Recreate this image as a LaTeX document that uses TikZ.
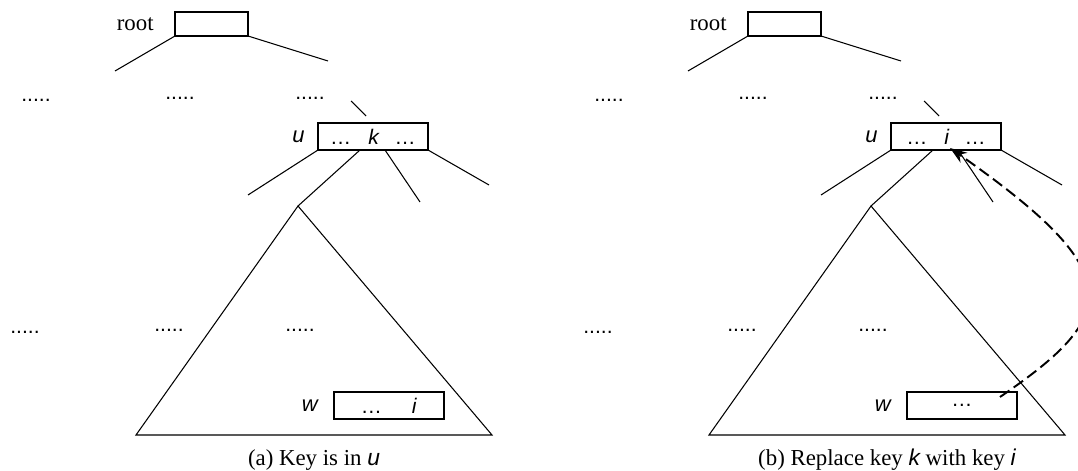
\documentclass[tikz,border=0pt]{standalone}
\usepackage{fontspec}
\setmainfont{Liberation Serif}
\setsansfont{Liberation Sans}
\usetikzlibrary{positioning,arrows.meta}
\tikzset{
  edge/.style={line width=0.6pt},
  rootbox/.style={draw,line width=0.6pt,minimum width=1.46cm,minimum height=0.48cm,inner sep=0pt,outer sep=0pt},
  keybox/.style={draw,line width=0.6pt,minimum width=2.2cm,minimum height=0.54cm,inner sep=0pt,outer sep=0pt,font=\fontsize{12}{14}\sffamily},
  varlbl/.style={inner sep=0pt,font=\fontsize{12.5}{14}\sffamily\itshape},
  dots/.style={inner sep=0pt,font=\fontsize{12}{14}\sffamily},
  serif/.style={inner sep=0pt,font=\fontsize{13}{15}\selectfont},
  caption/.style={serif,anchor=base},
}
\newcommand{\var}[1]{{\sffamily\itshape #1}}
\begin{document}
\begin{tikzpicture}
\useasboundingbox (0,0) rectangle (21.56,-9.42);
% (a) key is in u
\begin{scope}[name prefix=a-]
\node[rootbox] (root) at (4.23,-0.48) {};
\node[serif,left=0.42cm of root] (rootlbl) {root};
\coordinate (rl) at (2.3,-1.42); \coordinate (rr) at (6.56,-1.22);
\draw[edge] (root.south west) -- (rl); \draw[edge] (root.south east) -- (rr);
\node[dots] (d1) at (0.72,-2.0) {.....};
\node[dots] (d2) at (3.6,-1.96) {.....};
\node[dots] (d3) at (6.2,-1.96) {.....};
\coordinate (p1) at (7.02,-2.02); \coordinate (p2) at (7.32,-2.32);
\draw[edge] (p1) -- (p2);
\node[keybox] (u) at (7.46,-2.73) {…\hspace{0.34cm}\textit{k}\hspace{0.3cm}…};
\node[varlbl,left=0.26cm of u] (ulbl) {u};
\coordinate (top) at (5.96,-4.12);
\coordinate (c1) at (4.96,-3.9); \coordinate (c3) at (8.4,-4.04); \coordinate (c4) at (9.78,-3.7);
\draw[edge] (u.south west) -- (c1);
\draw[edge] ([xshift=0.84cm]u.south west) -- (top);
\draw[edge] ([xshift=1.34cm]u.south west) -- (c3);
\draw[edge] (u.south east) -- (c4);
\coordinate (bl) at (2.72,-8.7); \coordinate (br) at (9.84,-8.7);
\draw[edge] (top) -- (bl) -- (br) -- cycle;
\node[dots] (d4) at (0.5,-6.64) {.....};
\node[dots] (d5) at (3.38,-6.6) {.....};
\node[dots] (d6) at (6.0,-6.6) {.....};
\node[keybox] (w) at (7.78,-8.11) {…\hspace{0.6cm}\textit{i}};
\node[varlbl,left=0.32cm of w] (wlbl) {w};
\node[caption] (cap) at (6.28,-9.32) {(a) Key is in \var{u}};
\end{scope}
% (b) replace key k with key i
\begin{scope}[xshift=11.46cm,name prefix=b-]
\node[rootbox] (root) at (4.23,-0.48) {};
\node[serif,left=0.42cm of root] (rootlbl) {root};
\coordinate (rl) at (2.3,-1.42); \coordinate (rr) at (6.56,-1.22);
\draw[edge] (root.south west) -- (rl); \draw[edge] (root.south east) -- (rr);
\node[dots] (d1) at (0.72,-2.0) {.....};
\node[dots] (d2) at (3.6,-1.96) {.....};
\node[dots] (d3) at (6.2,-1.96) {.....};
\coordinate (p1) at (7.02,-2.02); \coordinate (p2) at (7.32,-2.32);
\draw[edge] (p1) -- (p2);
\node[keybox] (u) at (7.46,-2.73) {…\hspace{0.34cm}\textit{i}\hspace{0.3cm}…};
\node[varlbl,left=0.26cm of u] (ulbl) {u};
\coordinate (top) at (5.96,-4.12);
\coordinate (c1) at (4.96,-3.9); \coordinate (c3) at (8.4,-4.04); \coordinate (c4) at (9.78,-3.7);
\draw[edge] (u.south west) -- (c1);
\draw[edge] ([xshift=0.84cm]u.south west) -- (top);
\draw[edge] ([xshift=1.34cm]u.south west) -- (c3);
\draw[edge] (u.south east) -- (c4);
\coordinate (bl) at (2.72,-8.7); \coordinate (br) at (9.84,-8.7);
\draw[edge] (top) -- (bl) -- (br) -- cycle;
\node[dots] (d4) at (0.5,-6.64) {.....};
\node[dots] (d5) at (3.38,-6.6) {.....};
\node[dots] (d6) at (6.0,-6.6) {.....};
\node[keybox] (w) at (7.78,-8.11) {…};
\node[varlbl,left=0.32cm of w] (wlbl) {w};
\node[caption] (cap) at (6.28,-9.32) {(b) Replace key \var{k} with key \var{i}};
% key i moves up from w to u
\coordinate (from) at ([xshift=-0.34cm,yshift=-0.1cm]w.north east);
\coordinate (to) at ([xshift=0.08cm,yshift=0.04cm]u.south);
\draw[line width=1.1pt,dash pattern=on 6.5pt off 3pt,-{Stealth[length=0.34cm,width=0.24cm]}]
  (from) .. controls (10.94,-6.3) and (11.14,-5.48) .. (to);
\end{scope}
\end{tikzpicture}
\end{document}
